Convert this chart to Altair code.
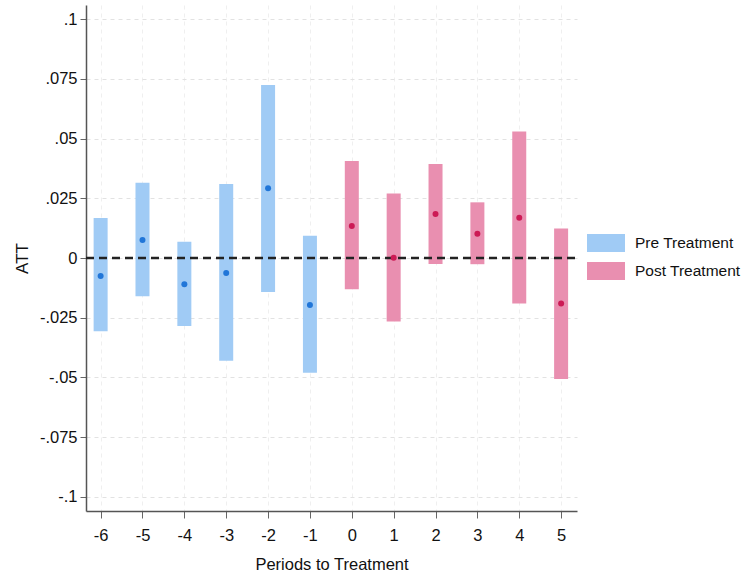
import altair as alt
import pandas as pd

periods = [-6, -5, -4, -3, -2, -1, 0, 1, 2, 3, 4, 5]
estimate = [-0.0075, 0.0075, -0.011, -0.0063, 0.0292, -0.0197, 0.0134, 0.0001, 0.0184, 0.0102, 0.0169, -0.019]
ci_low = [-0.0307, -0.016, -0.0285, -0.043, -0.0142, -0.048, -0.0131, -0.0266, -0.0025, -0.0026, -0.019, -0.0506]
ci_high = [0.0167, 0.0315, 0.0068, 0.031, 0.0724, 0.0093, 0.0406, 0.027, 0.0393, 0.0233, 0.0529, 0.0124]
groups = ["Pre Treatment"] * 6 + ["Post Treatment"] * 6

group_names = ["Pre Treatment", "Post Treatment"]
bar_colors = ["#a0cbf5", "#e98fb0"]
point_colors = ["#2176d8", "#cc1a55"]

y_ticks = [0.1, 0.075, 0.05, 0.025, 0, -0.025, -0.05, -0.075, -0.1]

df = pd.DataFrame({
    "period": periods,
    "est": estimate,
    "lo": ci_low,
    "hi": ci_high,
    "group": groups,
})

font = "Liberation Sans"

x_enc = alt.X(
    "period:Q",
    scale=alt.Scale(domain=[-6.23, 5.26], nice=False, zero=False),
    axis=alt.Axis(
        values=periods,
        labelExpr="toString(datum.value)",
        title="Periods to Treatment",
        titleFont=font,
        titleFontSize=16.5,
        titleFontWeight="normal",
        titleColor="#111111",
        titleBaseline="alphabetic",
        titleY=58,
        labelFont=font,
        labelFontSize=16.5,
        labelColor="#111111",
        labelPadding=9,
        tickSize=7,
        tickColor="#666666",
        domainColor="#555555",
        domainWidth=1.5,
        grid=True,
        gridColor="#efefef",
        gridDash=[4, 4],
        gridWidth=1,
    ),
)

y_scale = alt.Scale(domain=[-0.1059, 0.1059], nice=False, zero=False)
y_axis = alt.Axis(
    values=y_ticks,
    labelExpr="replace(replace(format(datum.value, '.3~f'), '\u2212', '-'), '0.', '.')",
    title="ATT",
    titleFont=font,
    titleFontSize=17,
    titleFontWeight="normal",
    titleColor="#111111",
    titleBaseline="alphabetic",
    titleX=-59,
    titleY=253,
    labelFont=font,
    labelFontSize=16.5,
    labelColor="#111111",
    labelPadding=3,
    tickSize=6,
    tickColor="#666666",
    domainColor="#555555",
    domainWidth=1.5,
    grid=True,
    gridColor="#e2e2e2",
    gridDash=[4, 4],
    gridWidth=1,
)

base = alt.Chart(df)

bars = base.mark_bar(size=14).encode(
    x=x_enc,
    y=alt.Y("lo:Q", scale=y_scale, axis=y_axis),
    y2="hi:Q",
    color=alt.Color(
        "group:N",
        scale=alt.Scale(domain=group_names, range=bar_colors),
        legend=alt.Legend(
            title=None,
            orient="none",
            legendX=501,
            legendY=219,
            labelFont=font,
            labelFontSize=15.5,
            labelColor="#111111",
            labelOffset=10,
            symbolType="M-1,-0.47L1,-0.47L1,0.47L-1,0.47Z",
            symbolSize=1444,
            symbolStrokeWidth=0,
            symbolOpacity=1,
            rowPadding=-8,
        ),
    ),
)

zero = alt.Chart(pd.DataFrame({"y": [0]})).mark_rule(
    color="#222222", strokeWidth=2.5, strokeDash=[8, 5]
).encode(
    y=alt.Y("y:Q", scale=y_scale),
    x=alt.value(0),
    x2=alt.value(489),
)

points = base.mark_circle(size=36, opacity=1).encode(
    x="period:Q",
    y=alt.Y("est:Q", scale=y_scale),
    fill=alt.Fill(
        "group:N",
        scale=alt.Scale(domain=group_names, range=point_colors),
        legend=None,
    ),
)

chart = alt.layer(bars, zero, points).properties(
    width=491,
    height=506,
    padding={"left": 86, "top": 5, "right": 172, "bottom": 64},
    autosize=alt.AutoSizeParams(type="none"),
    background="white",
).configure_view(stroke=None)

chart.save("out.html", embed_options={"renderer": "svg", "actions": False})
